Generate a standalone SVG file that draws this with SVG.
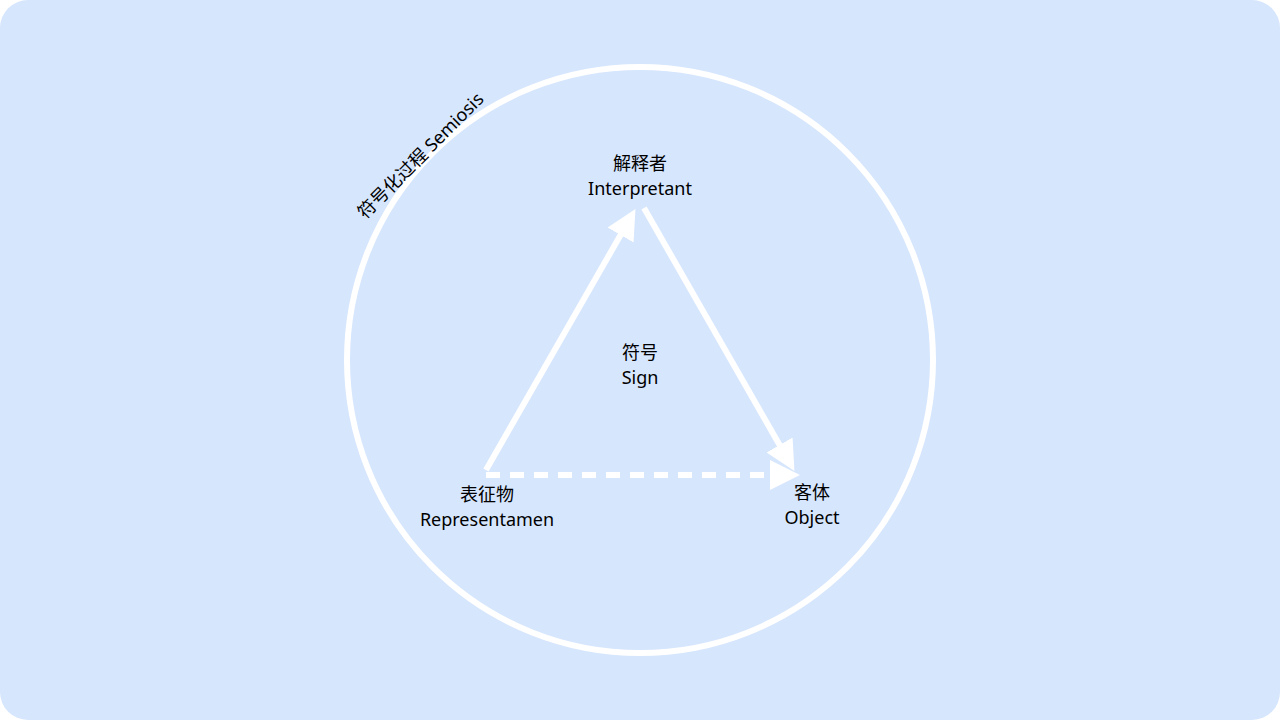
<svg xmlns="http://www.w3.org/2000/svg" width="1280" height="720" viewBox="0 0 1280 720">
<style>
text{font-family:"Noto Sans","Noto Sans CJK SC",sans-serif;font-size:18px;fill:#000;text-anchor:middle}
.l{stroke:#fff;stroke-width:6;fill:none}
</style>
<defs>
<marker id="a" markerWidth="5" markerHeight="5" refX="2.5" refY="2.5" orient="auto" markerUnits="strokeWidth"><path d="M0,0L5,2.5L0,5z" fill="#fff"/></marker>
</defs>
<rect x="0" y="0" width="1280" height="720" rx="28" fill="#d6e6fd"/>
<g id="circle"><circle cx="640" cy="360" r="293" class="l"/></g>
<text transform="translate(425,160) rotate(-45)">符号化过程 Semiosis</text>
<g id="connectors">
<path d="M486,470L628,222" class="l" marker-end="url(#a)"/>
<path d="M644,208L787,458" class="l" marker-end="url(#a)"/>
<path d="M486,475L785,475" class="l" stroke-dasharray="14,10" marker-end="url(#a)"/>
</g>
<g id="interpretant"><text x="640" y="170">解释者</text><text x="640" y="195">Interpretant</text></g>
<g id="sign"><text x="640" y="359">符号</text><text x="640" y="384">Sign</text></g>
<g id="representamen"><text x="487" y="501">表征物</text><text x="487" y="526">Representamen</text></g>
<g id="object"><text x="812" y="499">客体</text><text x="812" y="524">Object</text></g>
</svg>
